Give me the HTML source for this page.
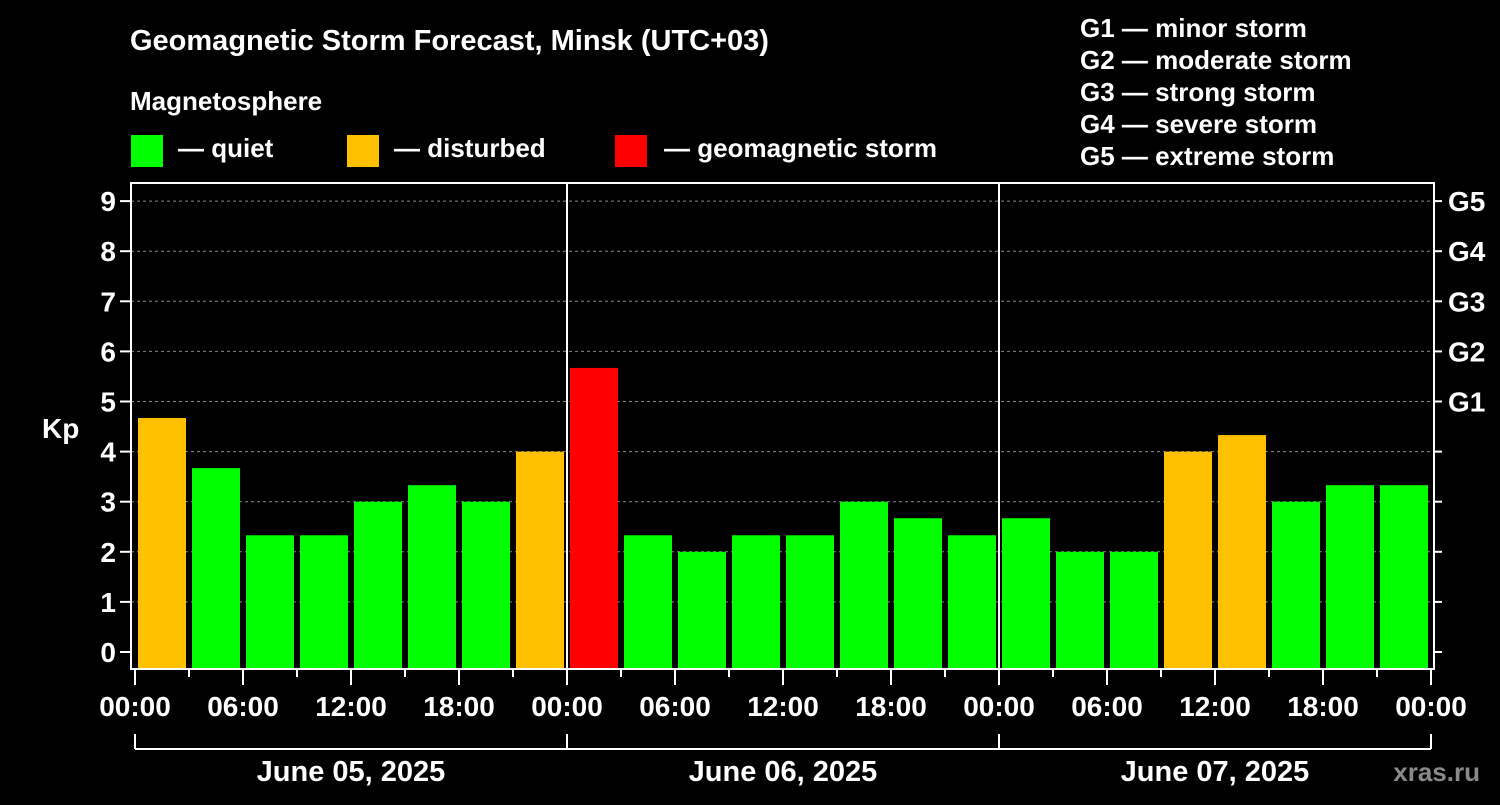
<!DOCTYPE html>
<html><head><meta charset="utf-8"><style>
body{margin:0;background:#000;width:1500px;height:800px;overflow:hidden}
svg text{font-family:"Liberation Sans",Arial,sans-serif;font-weight:bold;fill:#fff}
</style></head><body>
<svg id="c" width="1500" height="800" font-family="Liberation Sans, sans-serif">
<text x="130" y="50" font-size="29">Geomagnetic Storm Forecast, Minsk (UTC+03)</text>
<text x="130" y="110" font-size="26">Magnetosphere</text>
<g><rect x="131" y="135" width="32" height="32" fill="#00ff00"/><text x="178" y="157" font-size="26">— quiet</text></g>
<g><rect x="347" y="135" width="32" height="32" fill="#ffc000"/><text x="394" y="157" font-size="26">— disturbed</text></g>
<g><rect x="615" y="135" width="32" height="32" fill="#ff0000"/><text x="664" y="157" font-size="26">— geomagnetic storm</text></g>
<g font-size="26">
<text x="1080" y="37">G1 — minor storm</text><text x="1080" y="69">G2 — moderate storm</text><text x="1080" y="101">G3 — strong storm</text><text x="1080" y="133">G4 — severe storm</text><text x="1080" y="165">G5 — extreme storm</text></g>
<text x="42" y="438" font-size="28">Kp</text>
<text x="1480" y="781" font-size="26" text-anchor="end" style="fill:#8a8a8a">xras.ru</text>
<g id="g"></g>
</svg>
<script>
const kpValues=[4.67,3.67,2.33,2.33,3,3.33,3,4, 5.67,2.33,2,2.33,2.33,3,2.67,2.33, 2.67,2,2,4,4.33,3,3.33,3.33];
const dayLabels=["June 05, 2025","June 06, 2025","June 07, 2025"];
const hourTicks=["00:00","06:00","12:00","18:00"];
const yTicks=[0,1,2,3,4,5,6,7,8,9];
const gLabels=["G1","G2","G3","G4","G5"];
const NS="http://www.w3.org/2000/svg",gEl=document.getElementById('g');
const x0=135,dayW=432,slot=dayW/8,frameL=131,frameR=1434,plotTop=183,plotBot=669;
const X=i=>x0+i*slot, Y=v=>652-v*50.1;
function mk(t,a,txt){const e=document.createElementNS(NS,t);for(const k in a)e.setAttribute(k,a[k]);if(txt!=null)e.textContent=txt;gEl.appendChild(e);return e;}
yTicks.forEach(v=>{if(v>0){const l=mk('line',{x1:frameL,x2:frameR,y1:Y(v),y2:Y(v),stroke:'#888','stroke-dasharray':'3,3','stroke-width':1});

}
const t=mk('line',{x1:120,x2:frameL,y1:Y(v),y2:Y(v),stroke:'#fff','stroke-width':2});


const r=mk('line',{x1:frameR,x2:1442,y1:Y(v),y2:Y(v),stroke:'#fff','stroke-width':2});


const lb=mk('text',{x:116,y:Y(v)+10,'font-size':28,'text-anchor':'end'},String(v));

});
gLabels.forEach((s,i)=>{const t=mk('text',{x:1448,y:Y(5+i)+10,'font-size':28},s);

});
kpValues.forEach((v,i)=>{const c=v>=5?'#ff0000':v>=4?'#ffc000':'#00ff00';
const b=mk('rect',{x:X(i)+3,y:Y(v),width:slot-6,height:plotBot-Y(v),fill:c});

});
const f=mk('rect',{x:frameL,y:plotTop,width:frameR-frameL,height:plotBot-plotTop,fill:'none',stroke:'#fff','stroke-width':2});


for(let d=1;d<dayLabels.length;d++){const s=mk('line',{x1:x0+d*dayW,x2:x0+d*dayW,y1:plotTop,y2:plotBot,stroke:'#fff','stroke-width':2});

}
for(let i=0;i<=kpValues.length;i++){const major=i%2==0;
const t=mk('line',{x1:X(i),x2:X(i),y1:plotBot,y2:plotBot+(major?16:8),stroke:'#fff','stroke-width':2});


if(major){const lb=mk('text',{x:X(i),y:716,'font-size':28,'text-anchor':'middle'},hourTicks[(i/2)%4]);

}}
const br=mk('line',{x1:x0,x2:x0+3*dayW,y1:749,y2:749,stroke:'#fff','stroke-width':2});


for(let d=0;d<=dayLabels.length;d++){const t=mk('line',{x1:x0+d*dayW,x2:x0+d*dayW,y1:734,y2:749,stroke:'#fff','stroke-width':2});

}
dayLabels.forEach((s,d)=>{const t=mk('text',{x:x0+d*dayW+dayW/2,y:781,'font-size':29,'text-anchor':'middle'},s);

});
</script>
</body></html>
